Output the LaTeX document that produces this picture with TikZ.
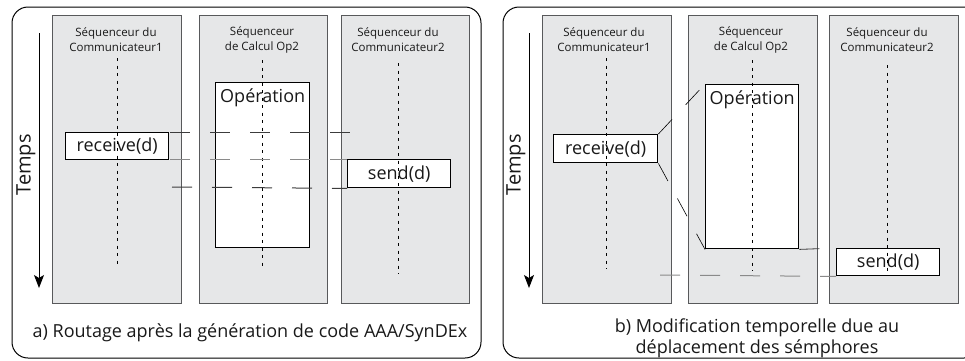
\documentclass[tikz,border=0pt]{standalone}
\usepackage{fontspec}
\setmainfont{Open Sans}
\usetikzlibrary{arrows.meta}
\definecolor{colfill}{HTML}{E6E7E8}
\definecolor{colline}{HTML}{58595B}
\definecolor{dashdark}{HTML}{3C3C3C}
\definecolor{dashgrey}{HTML}{8A8A8A}
\begin{document}
\begin{tikzpicture}[x=1pt,y=-1pt,
  frame/.style={draw=black,line width=1pt,rounded corners=16pt},
  seqcol/.style={draw=colline,fill=colfill,line width=0.9pt,minimum height=288pt,anchor=north west,inner sep=0pt},
  hdr/.style={font=\fontsize{11.5}{15}\selectfont,align=center,text=black!90,anchor=center},
  actbox/.style={draw=black,fill=white,line width=1.4pt,inner sep=0pt,anchor=north west},
  acttxt/.style={font=\fontsize{18}{20}\selectfont,text=black!90},
  lifeline/.style={draw=black,line width=0.7pt,dash pattern=on 3pt off 4.5pt},
  semdash/.style={line width=1pt,dash pattern=on 20pt off 20pt},
  diagdash/.style={draw=black,line width=0.6pt,dash pattern=on 20pt off 20pt},
  timearrow/.style={draw=black,line width=1pt,-{Stealth[length=13pt,width=10pt,inset=3pt]}},
  timetxt/.style={font=\fontsize{20}{22}\selectfont,text=black!90,rotate=90},
  caption/.style={font=\fontsize{18}{21}\selectfont,text=black!90,align=center}]
\useasboundingbox (0,0) rectangle (965,360);
\clip (0,0) rectangle (965,360);

% ---------------- panel a ----------------
\draw[frame] (12,7) rectangle (481,358);
\node[seqcol,minimum width=129pt] (colA1) at (52,15) {};
\node[seqcol,minimum width=128pt] (colA2) at (199,15) {};
\node[seqcol,minimum width=128pt] (colA3) at (341,15) {};
\node[hdr] (hA1) at (116,40) {Séquenceur du\\Communicateur1};
\node[hdr] (hA2) at (262,40) {Séquenceur\\de Calcul Op2};
\node[hdr] (hA3) at (398,40) {Séquenceur du\\Communicateur2};

\node[actbox,minimum width=94pt,minimum height=165pt] (opA) at (215,82) {};
\node[acttxt,anchor=north] (opAt) at ([yshift=-3pt]opA.north) {Opération};
\node[actbox,minimum width=103pt,minimum height=27pt] (recvA) at (65,132) {};
\node[acttxt] (recvAt) at (recvA.center) {receive(d)};
\node[actbox,minimum width=103pt,minimum height=28pt] (sendA) at (347,159) {};
\node[acttxt] (sendAt) at (sendA.center) {send(d)};

\coordinate (lA1s) at (117,58); \coordinate (lA1e) at (117,267);
\coordinate (lA2s) at (262,60); \coordinate (lA2e) at (262,269);
\coordinate (lA3s) at (398,63); \coordinate (lA3e) at (398,274);
\draw[lifeline] (lA1s) -- (lA1e);
\draw[lifeline] (lA2s) -- (lA2e);
\draw[lifeline] (lA3s) -- (lA3e);

\coordinate (dA1s) at (170,132); \coordinate (dA1e) at (351,132);
\coordinate (dA2s) at (170,159);
\coordinate (dA3s) at (172,187);
\draw[semdash,draw=dashdark] (dA1s) -- (dA1e);
\draw[semdash,draw=dashgrey] (dA2s) -- (sendA.north west);
\draw[semdash,draw=dashdark] (dA3s) -- (sendA.south west);

\coordinate (tAs) at (39,33); \coordinate (tAe) at (39,288);
\draw[timearrow] (tAs) -- (tAe);
\node[timetxt] (tA) at (26,165) {Temps};
\node[caption] (capA) at (250,333) {a) Routage après la génération de code AAA/SynDEx};

% ---------------- panel b ----------------
\draw[frame] (503,7) rectangle (980,358);
\node[seqcol,minimum width=129pt] (colB1) at (542,15) {};
\node[seqcol,minimum width=129pt] (colB2) at (688,15) {};
\node[seqcol,minimum width=129pt] (colB3) at (829,15) {};
\node[hdr] (hB1) at (604,40) {Séquenceur du\\Communicateur1};
\node[hdr] (hB2) at (751,40) {Séquenceur\\de Calcul Op2};
\node[hdr] (hB3) at (887,40) {Séquenceur du\\Communicateur2};

\node[actbox,minimum width=93pt,minimum height=164pt] (opB) at (705,84) {};
\node[acttxt,anchor=north] (opBt) at ([yshift=-3pt]opB.north) {Opération};
\node[actbox,minimum width=104pt,minimum height=28pt] (recvB) at (553,134) {};
\node[acttxt] (recvBt) at (recvB.center) {receive(d)};
\node[actbox,minimum width=103pt,minimum height=27pt] (sendB) at (836,248) {};
\node[acttxt] (sendBt) at (sendB.center) {send(d)};

\coordinate (lB1s) at (606,58); \coordinate (lB1e) at (606,269);
\coordinate (lB2s) at (752,60); \coordinate (lB2e) at (752,271);
\coordinate (lB3s) at (887,65); \coordinate (lB3e) at (887,275);
\draw[lifeline] (lB1s) -- (lB1e);
\draw[lifeline] (lB2s) -- (lB2e);
\draw[lifeline] (lB3s) -- (lB3e);

\draw[diagdash] (recvB.north east) -- (opB.north west);
\draw[diagdash] (recvB.south east) -- (opB.south west);
\draw[semdash,draw=dashdark,line width=0.8pt] (opB.south east) -- (sendB.north west);
\coordinate (dBs) at (660,275);
\draw[semdash,draw=dashgrey] (dBs) -- (sendB.south west);

\coordinate (tBs) at (529,33); \coordinate (tBe) at (529,288);
\draw[timearrow] (tBs) -- (tBe);
\node[timetxt] (tB) at (516,165) {Temps};
\node[caption] (capB) at (757,338) {b) Modification temporelle due au\\déplacement des sémphores};
\end{tikzpicture}
\end{document}
